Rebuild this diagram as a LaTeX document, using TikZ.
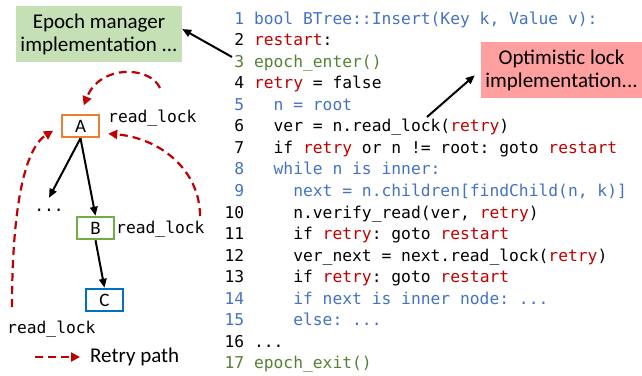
\documentclass[tikz,border=0pt]{standalone}
\usepackage{fontspec}
\setmainfont{Carlito}
\setmonofont{DejaVu Sans Mono}
\usetikzlibrary{arrows.meta}
\definecolor{cblue}{HTML}{4472C4}
\definecolor{cred}{HTML}{C00000}
\definecolor{cgreen}{HTML}{548235}
\definecolor{boxgreen}{HTML}{C5E0B4}
\definecolor{boxred}{HTML}{FF9F9F}
\definecolor{norange}{HTML}{ED7D31}
\definecolor{ngreen}{HTML}{70AD47}
\definecolor{nblue}{HTML}{0070C0}
\newcommand\Rd[1]{\textcolor{cred}{#1}}
\begin{document}
\begin{tikzpicture}[x=1pt,y=-1pt,
  code/.style={anchor=base west, inner sep=0pt, font=\fontsize{16.3}{18}\ttfamily},
  lbl/.style={anchor=base west, inner sep=0pt, font=\fontsize{16.3}{18}\ttfamily},
  callout/.style={inner sep=0pt, align=center, font=\fontsize{21}{23}\selectfont},
  treenode/.style={draw, line width=2.5pt, minimum width=37pt, minimum height=22pt, inner sep=0pt, font=\fontsize{19}{20}\selectfont},
  blackarrow/.style={line width=2pt, -{Triangle[length=9pt,width=7.5pt]}},
  retry/.style={draw=cred, line width=2.2pt, dash pattern=on 8pt off 5pt, -{Triangle[length=9pt,width=9pt,fill=cred]}, color=cred}
]
\useasboundingbox (0,0) rectangle (642,375);

% callout boxes
\node[callout, fill=boxgreen, minimum width=166pt, minimum height=56pt] (epoch) at (99,34) {Epoch manager\\implementation ...};
\node[callout, fill=boxred, minimum width=161pt, minimum height=56pt] (olock) at (561.5,70) {Optimistic lock\\implementation...};

% code lines
\def\cx{224.4}
\node[code, text=cblue] (l1) at (\cx,24) {\phantom{0}1~bool~BTree::Insert(Key~k,~Value~v):};
\node[code] (l2) at (\cx,45.56) {\phantom{0}2~\Rd{restart}:};
\node[code, text=cgreen] (l3) at (\cx,67.12) {\phantom{0}3~epoch\_enter()};
\node[code] (l4) at (\cx,88.68) {\phantom{0}4~\Rd{retry}~=~false};
\node[code, text=cblue] (l5) at (\cx,110.24) {\phantom{0}5~~~n~=~root};
\node[code] (l6) at (\cx,131.8) {\phantom{0}6~~~ver~=~n.read\_lock(\Rd{retry})};
\node[code] (l7) at (\cx,153.36) {\phantom{0}7~~~if~\Rd{retry}~or~n~!=~root:~goto~\Rd{restart}};
\node[code, text=cblue] (l8) at (\cx,174.92) {\phantom{0}8~~~while~n~is~inner:};
\node[code, text=cblue] (l9) at (\cx,196.48) {\phantom{0}9~~~~~next~=~n.children[findChild(n,~k)]};
\node[code] (l10) at (\cx,218.04) {10~~~~~n.verify\_read(ver,~\Rd{retry})};
\node[code] (l11) at (\cx,239.6) {11~~~~~if~\Rd{retry}:~goto~\Rd{restart}};
\node[code] (l12) at (\cx,261.16) {12~~~~~ver\_next~=~next.read\_lock(\Rd{retry})};
\node[code] (l13) at (\cx,282.72) {13~~~~~if~\Rd{retry}:~goto~\Rd{restart}};
\node[code, text=cblue] (l14) at (\cx,304.28) {14~~~~~if~next~is~inner~node:~...};
\node[code, text=cblue] (l15) at (\cx,325.84) {15~~~~~else:~...};
\node[code] (l16) at (\cx,347.4) {16~...};
\node[code, text=cgreen] (l17) at (\cx,368.96) {17~epoch\_exit()};

% callout arrows
\coordinate (s3) at (232,57);
\coordinate (s6) at (427,117);
\draw[blackarrow] (s3) -- ([yshift=5pt]epoch.east);
\draw[blackarrow, shorten >=8pt] (s6) -- (olock.west);

% tree
\node[treenode, draw=norange] (A) at (80.5,126) {A};
\node[treenode, draw=ngreen] (B) at (95.5,228) {B};
\node[treenode, draw=nblue] (C) at (104.5,300) {C};
\node[inner sep=0pt, minimum height=24pt, font=\fontsize{16.3}{18}\ttfamily] (dots) at (49,210) {...};
\draw[blackarrow] (A.south) -- (dots.north);
\draw[blackarrow] (A.south) -- (B.north);
\draw[blackarrow] (B.south) -- (C.north);

\node[lbl] (rlA) at (108,122) {read\_lock};
\node[lbl] (rlB) at (116,233) {read\_lock};
\node[lbl] (rlC) at (7,333) {read\_lock};

% retry paths
\coordinate (r1) at (160,88);
\coordinate (r2) at (200,216);
\coordinate (r3) at (12,307);
\draw[retry, shorten >=9pt] (r1) .. controls (150,66) and (100,64) .. (A.north);
\draw[retry, shorten >=8pt] (r2) .. controls (200,170) and (160,138) .. ([yshift=-7pt]A.east);
\draw[retry, shorten >=9pt] (r3) .. controls (12,220) and (22,150) .. (A.west);

% legend
\coordinate (lg1) at (35,357);
\coordinate (lg2) at (80,357);
\draw[retry] (lg1) -- (lg2);
\node[anchor=west, inner sep=0pt, font=\fontsize{21}{23}\selectfont] (lgt) at (90,357) {Retry path};
\end{tikzpicture}
\end{document}
